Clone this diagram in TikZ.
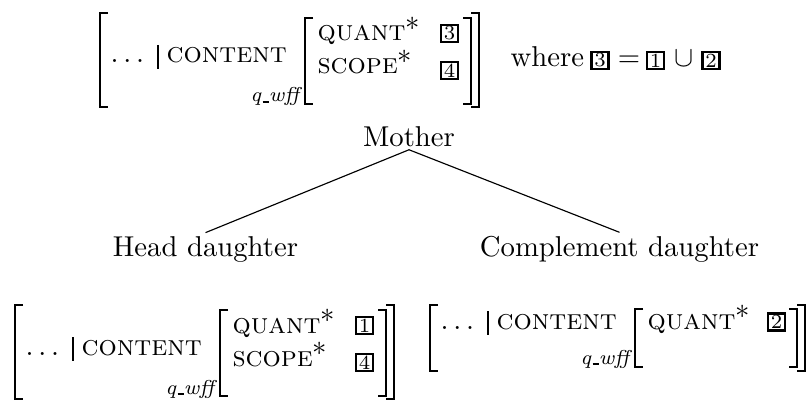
\documentclass[tikz,border=0pt]{standalone}
\usepackage{fontspec}
\newcommand\featfont{\fontsize{10}{12}\selectfont\scshape}
\newcommand\fstar{$^{\textstyle *}$}
\newcommand\qwff{q\kern.06em\rule[-0.25pt]{0.32em}{0.55pt}wff}
\tikzset{
  lbl/.style={inner sep=0pt, anchor=base west, font=\normalsize},
  feat/.style={inner sep=0pt, anchor=base west, font=\featfont},
  brk/.style={line width=0.7pt},
  barline/.style={line width=0.4pt},
  tag/.style={draw, line width=0.8pt, inner sep=0pt, minimum width=6pt, minimum height=6pt, font=\fontsize{7}{8}\selectfont},
  typ/.style={inner sep=0pt, anchor=base east, font=\fontsize{7}{8}\selectfont\itshape},
  treenode/.style={inner sep=1pt, anchor=base, font=\normalsize},
  edgeline/.style={line width=0.4pt},
}
\begin{document}
\begin{tikzpicture}[x=0.3484pt, y=-0.3484pt]
\useasboundingbox (0,0) rectangle (807,400);

% ---------- top AVM ----------
\draw[brk] (108,13) -- (100,13) -- (100,107) -- (108,107);
\node[lbl] (tdots) at (110,63) {$\ldots$};
\draw[barline] (158,45) -- (158,69);
\node[feat] (tfeat) at (166,63) {content};
\node[typ] (ttype) at (300,102) {\qwff};
\draw[brk] (313,18) -- (305,18) -- (305,104) -- (313,104);
\node[feat] (tq) at (317,41) {quant\fstar};
\node[feat] (ts) at (317,74) {scope\fstar};
\node[tag] (tb3) at (449.5,33.5) {3};
\node[tag] (tb4) at (449.5,70.5) {4};
\draw[brk] (463,18) -- (471,18) -- (471,104) -- (463,104);
\draw[brk] (471,13) -- (479,13) -- (479,107) -- (471,107);

% ---------- where clause ----------
\node[lbl] (where) at (510,67) {where};
\node[tag] (wb3) at (600,60.5) {3};
\node[inner sep=0pt, anchor=base] (weq) at (629,67) {$=$};
\node[tag] (wb1) at (655.5,60.5) {1};
\node[inner sep=0pt, anchor=base] (wcup) at (684.5,67) {$\cup$};
\node[tag] (wb2) at (711,60.5) {2};

% ---------- tree ----------
\node[treenode] (mother) at (409,146) {Mother};
\node[treenode] (head) at (205.5,256) {Head daughter};
\node[treenode] (comp) at (619.5,256) {Complement daughter};
\draw[edgeline] (mother.south) -- (head.north);
\draw[edgeline] (mother.south) -- (comp.north);

% ---------- bottom-left AVM ----------
\begin{scope}[shift={(-85,292)}]
\draw[brk] (108,13) -- (100,13) -- (100,107) -- (108,107);
\node[lbl] (ldots) at (110,63) {$\ldots$};
\draw[barline] (158,45) -- (158,69);
\node[feat] (lfeat) at (166,63) {content};
\node[typ] (ltype) at (300,102) {\qwff};
\draw[brk] (313,18) -- (305,18) -- (305,104) -- (313,104);
\node[feat] (lq) at (317,41) {quant\fstar};
\node[feat] (ls) at (317,74) {scope\fstar};
\node[tag] (lb1) at (449.5,33.5) {1};
\node[tag] (lb4) at (449.5,70.5) {4};
\draw[brk] (463,18) -- (471,18) -- (471,104) -- (463,104);
\draw[brk] (471,13) -- (479,13) -- (479,107) -- (471,107);
\end{scope}

% ---------- bottom-right AVM ----------
\draw[brk] (438,305) -- (430,305) -- (430,371) -- (438,371);
\node[lbl] (rdots) at (440,329) {$\ldots$};
\draw[barline] (488,311) -- (488,335);
\node[feat] (rfeat) at (496,329) {content};
\node[typ] (rtype) at (630,364) {\qwff};
\draw[brk] (643,309) -- (635,309) -- (635,367) -- (643,367);
\node[feat] (rq) at (647,329) {quant\fstar};
\node[tag] (rb2) at (776.5,322) {2};
\draw[brk] (789,309) -- (797,309) -- (797,367) -- (789,367);
\draw[brk] (797,305) -- (805,305) -- (805,371) -- (797,371);
\end{tikzpicture}
\end{document}
